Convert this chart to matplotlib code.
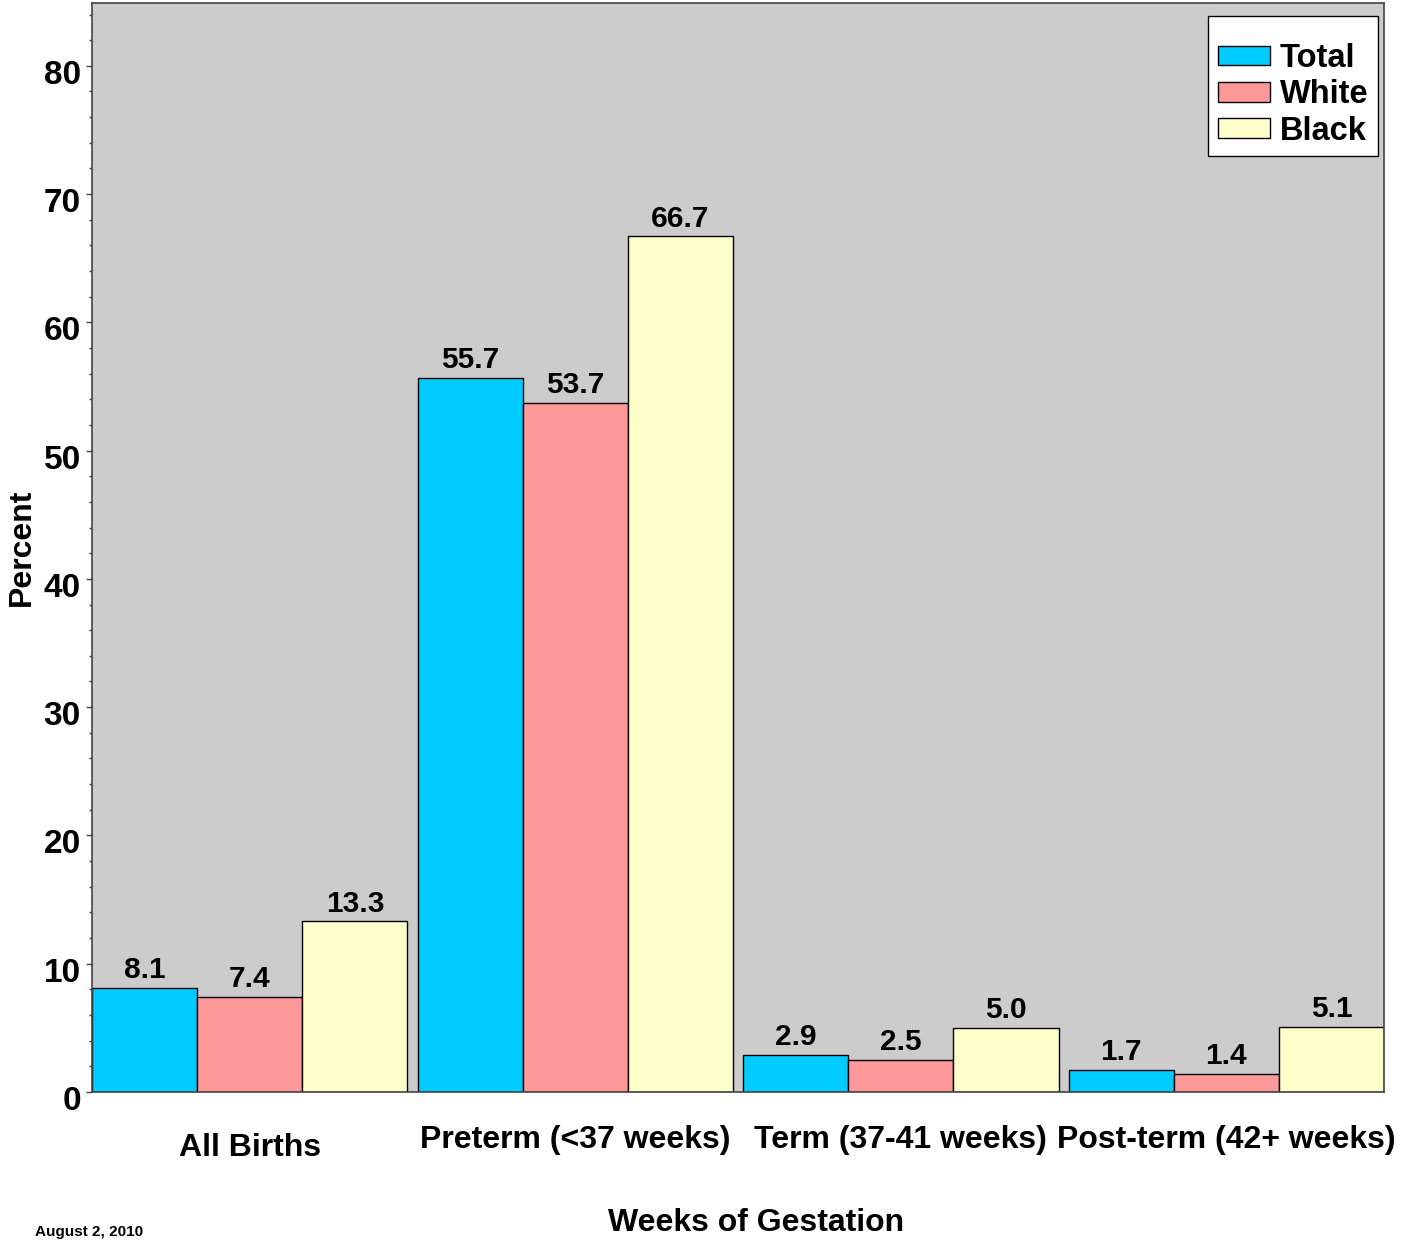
import numpy as np
import matplotlib.pyplot as plt
import matplotlib.transforms as mtransforms
from matplotlib.ticker import MultipleLocator

# data
categories = ["All Births", "Preterm (<37 weeks)", "Term (37-41 weeks)", "Post-term (42+ weeks)"]
series_names = ["Total", "White", "Black"]
total = [8.1, 55.7, 2.9, 1.7]
white = [7.4, 53.7, 2.5, 1.4]
black = [13.3, 66.7, 5.0, 5.1]
colors = ["#00CCFF", "#FF9999", "#FFFFCC"]

plt.rcParams['font.family'] = ['Liberation Sans', 'DejaVu Sans']
plt.rcParams['font.weight'] = 'bold'

fig = plt.figure(figsize=(14.01, 12.4), dpi=100)
ax = fig.add_axes([0.0657, 0.1194, 0.9222, 0.8782])
ax.set_facecolor("#CCCCCC")

x = np.arange(len(categories))
w = 0.323
for i, (vals, name, c) in enumerate(zip([total, white, black], series_names, colors)):
    pos = x + (i - 1) * w
    ax.bar(pos, vals, width=w, color=c, edgecolor="black", linewidth=1, label=name)
    for xp, v in zip(pos, vals):
        ax.text(xp, v + 0.3, f"{v:.1f}", ha="center", va="bottom", fontsize=21.5, fontweight="bold")

ax.set_xlim(-1.5 * w, 3 + 1.5 * w)
ax.set_ylim(0, 84.9)
ax.yaxis.set_major_locator(MultipleLocator(10))
ax.yaxis.set_minor_locator(MultipleLocator(2))
ax.tick_params(axis='y', which='major', length=4, width=1, labelsize=24, pad=4, colors="#444444", labelcolor="black")
ax.tick_params(axis='y', which='minor', length=2.5, width=1, colors="#444444")

# y tick labels sit a few pixels below their ticks in the original
shift = mtransforms.ScaledTranslation(0, -6 / 100, fig.dpi_scale_trans)
for lab in ax.get_yticklabels():
    lab.set_transform(lab.get_transform() + shift)

ax.set_xticks(x)
ax.set_xticklabels(categories, fontsize=23, fontweight="bold")
ax.tick_params(axis='x', length=0, pad=24)
# first label sits a little lower in the original
ax.get_xticklabels()[0].set_y(-0.007)

for s in ax.spines.values():
    s.set_color("#444444")
    s.set_linewidth(1.2)

ax.set_ylabel("Percent", fontsize=23, fontweight="bold")
ax.yaxis.set_label_coords(-0.043, 0.5)
fig.text(0.54, 0.002, "Weeks of Gestation", ha="center", va="bottom", fontsize=23, fontweight="bold")
fig.text(0.102, 0.001, "August 2, 2010", ha="right", va="bottom", fontsize=11, fontweight="bold")

leg = ax.legend(loc="upper right", bbox_to_anchor=(0.9955, 0.988), fontsize=23.5, frameon=True,
                fancybox=False, edgecolor="black", framealpha=1, handlelength=1.6, handleheight=0.55,
                handletextpad=0.3, labelspacing=0.16, borderpad=0.3, borderaxespad=0,
                title=" ", title_fontsize=9)
leg.get_frame().set_linewidth(1)
for t in leg.get_texts():
    t.set_fontweight("bold")

fig.savefig("out.png", dpi=100)
